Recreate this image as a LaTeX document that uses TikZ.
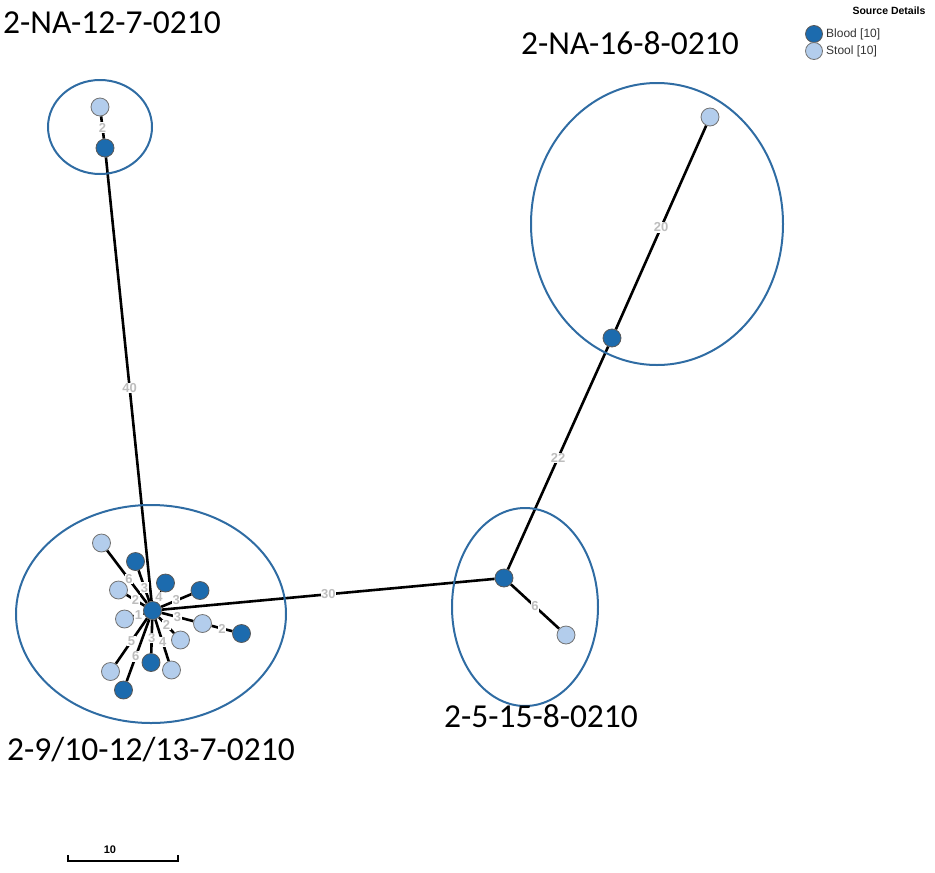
\documentclass[tikz,border=0pt]{standalone}
\usepackage{fontspec}
\setmainfont{Carlito}
\newfontfamily\arialf{Liberation Sans}
\usetikzlibrary{backgrounds}
\definecolor{bloodc}{HTML}{1C6BAE}
\definecolor{stoolc}{HTML}{B3CDEC}
\definecolor{ringc}{HTML}{2F6CA3}
\definecolor{elab}{HTML}{BDBDBD}
\tikzset{
  blood/.style={circle,draw=black!65,line width=0.8pt,fill=bloodc,minimum size=18pt,inner sep=0pt},
  stool/.style={circle,draw=black!55,line width=0.8pt,fill=stoolc,minimum size=18pt,inner sep=0pt},
  edge/.style={line width=2.6pt,black},
  elabel/.style={fill=white,inner sep=0.5pt,text=elab,font=\arialf\fontsize{13}{13}\selectfont\bfseries},
  ring/.style={draw=ringc,line width=2pt},
  grp/.style={font=\fontsize{33.5}{34}\selectfont,text=black},
}
\begin{document}
\begin{tikzpicture}[x=1pt,y=-1pt]
\useasboundingbox (0,0) rectangle (935,873);
% rings
\draw[ring] (100,127) ellipse [x radius=52,y radius=47];
\draw[ring] (657,224) ellipse [x radius=126,y radius=141];
\draw[ring] (151,614) ellipse [x radius=135,y radius=109];
\draw[ring] (525,607) ellipse [x radius=73,y radius=99];
% nodes
\node[stool] (a1) at (100,107) {};
\node[blood] (a2) at (105,148) {};
\node[stool] (b1) at (710,117) {};
\node[blood] (b2) at (612,338) {};
\node[blood] (r1) at (504,578) {};
\node[stool] (r2) at (566,635) {};
\node[blood] (c) at (152.5,610.5) {};
\node[stool] (c1) at (101.5,543) {};
\node[blood] (c2) at (135.5,561.5) {};
\node[stool] (c3) at (118.5,590) {};
\node[blood] (c4) at (165.5,583) {};
\node[blood] (c5) at (200,590.5) {};
\node[stool] (c6) at (124.5,619) {};
\node[stool] (c7) at (202.5,623.5) {};
\node[blood] (c8) at (241.5,633.5) {};
\node[stool] (c9) at (180.5,640) {};
\node[blood] (c10) at (151,662.5) {};
\node[stool] (c11) at (171.5,670) {};
\node[stool] (c12) at (110.5,671.5) {};
\node[blood] (c13) at (123.5,690) {};
% edges
\begin{scope}[on background layer]
\draw[edge] (a1) -- node[elabel,pos=0.5] {2} (a2);
\draw[edge] (a2) -- node[elabel,pos=0.52] {40} (c);
\draw[edge] (c) -- node[elabel,pos=0.5] {30} (r1);
\draw[edge] (r1) -- node[elabel,pos=0.5] {22} (b2);
\draw[edge] (b2) -- node[elabel,pos=0.5] {20} (b1);
\draw[edge] (r1) -- node[elabel,pos=0.5] {6} (r2);
\draw[edge] (c) -- node[elabel,pos=0.45] {6} (c1);
\draw[edge] (c) -- node[elabel,pos=0.45] {3} (c2);
\draw[edge] (c) -- node[elabel,pos=0.5] {4} (c4);
\draw[edge] (c) -- node[elabel,pos=0.5] {2} (c3);
\draw[edge] (c) -- node[elabel,pos=0.5] {3} (c5);
\draw[edge] (c) -- node[elabel,pos=0.5] {1} (c6);
\draw[edge] (c) -- node[elabel,pos=0.5] {3} (c7);
\draw[edge] (c7) -- node[elabel,pos=0.5] {2} (c8);
\draw[edge] (c) -- node[elabel,pos=0.5] {2} (c9);
\draw[edge] (c) -- node[elabel,pos=0.55] {3} (c10);
\draw[edge] (c) -- node[elabel,pos=0.55] {4} (c11);
\draw[edge] (c) -- node[elabel,pos=0.5] {5} (c12);
\draw[edge] (c) -- node[elabel,pos=0.6] {6} (c13);
\end{scope}
% group labels
\node[grp] (g1) at (112,23) {2-NA-12-7-0210};
\node[grp] (g2) at (630,43) {2-NA-16-8-0210};
\node[grp] (g3) at (151,750) {2-9/10-12/13-7-0210};
\node[grp] (g4) at (541,716) {2-5-15-8-0210};
% legend
\node[font=\arialf\fontsize{10.5}{11}\selectfont\bfseries,anchor=east] (lt) at (929,11) {Source Details};
\node[blood,minimum size=17pt] (lb) at (814,34) {};
\node[stool,minimum size=17pt] (ls) at (814,51) {};
\node[font=\arialf\fontsize{12}{12}\selectfont,anchor=west,text=black!80,inner sep=0pt] (lbt) at (826,34) {Blood [10]};
\node[font=\arialf\fontsize{12}{12}\selectfont,anchor=west,text=black!80,inner sep=0pt] (lst) at (826,51) {Stool [10]};
% scale bar
\coordinate (s1) at (68,855);
\coordinate (s2) at (178,855);
\draw[line width=1.3pt] (s1) -- (68,861) -- (178,861) -- (s2);
\node[font=\arialf\fontsize{11}{11}\selectfont\bfseries] (sl) at (110,850) {10};
\end{tikzpicture}
\end{document}
